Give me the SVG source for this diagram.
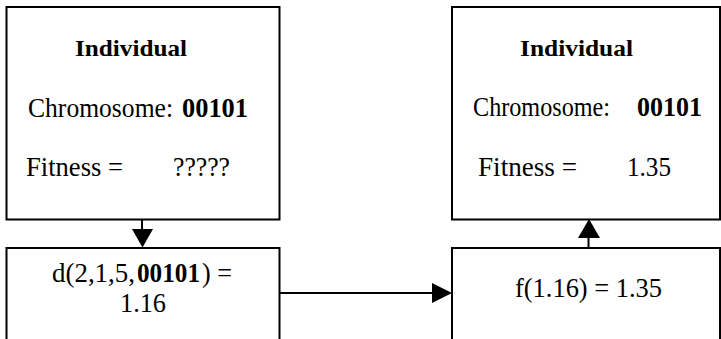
<svg xmlns="http://www.w3.org/2000/svg" width="721" height="339" viewBox="0 0 721 339">
<style>
text{font-family:'Liberation Serif','Times New Roman','DejaVu Serif',serif;fill:#000}
.t{font-size:27px}
.h{font-size:23px;font-weight:bold}
.b{font-weight:bold}
.box{fill:#fff;stroke:#000;stroke-width:2}
.c{stroke:#000;stroke-width:2;fill:none}
.ah{fill:#000;stroke:none}
</style>
<rect width="721" height="339" fill="#fff"/>
<g id="connectors">
<line class="c" x1="142" y1="217" x2="142" y2="230"/>
<polygon class="ah" points="132,229 153,229 142.5,247.5"/>
<line class="c" x1="588.5" y1="237" x2="588.5" y2="248"/>
<polygon class="ah" points="578,238 600,238 589,219"/>
<line class="c" x1="277" y1="293" x2="434" y2="293"/>
<polygon class="ah" points="432,283 432,303 452,293"/>
</g>
<g id="individual-left">
<rect class="box" x="6.5" y="7" width="273" height="212.5"/>
<text class="h" x="75" y="56" textLength="112" lengthAdjust="spacingAndGlyphs">Individual</text>
<text class="t" x="28" y="117" textLength="145" lengthAdjust="spacingAndGlyphs">Chromosome:</text>
<text class="t b" x="182" y="117" textLength="66" lengthAdjust="spacingAndGlyphs">00101</text>
<text class="t" x="26" y="176" textLength="97" lengthAdjust="spacingAndGlyphs">Fitness =</text>
<text class="t" x="173" y="176" textLength="57" lengthAdjust="spacingAndGlyphs">?????</text>
</g>
<g id="decode">
<rect class="box" x="6.5" y="248" width="273" height="100"/>
<text class="t" x="52" y="282" textLength="83" lengthAdjust="spacingAndGlyphs">d(2,1,5,</text>
<text class="t b" x="137" y="282" textLength="63" lengthAdjust="spacingAndGlyphs">00101</text>
<text class="t" x="202" y="282" textLength="30" lengthAdjust="spacingAndGlyphs">) =</text>
<text class="t" x="120" y="312" textLength="46" lengthAdjust="spacingAndGlyphs">1.16</text>
</g>
<g id="fitness-fn">
<rect class="box" x="452" y="248" width="268" height="100"/>
<text class="t" x="515" y="297" textLength="147" lengthAdjust="spacingAndGlyphs">f(1.16) = 1.35</text>
</g>
<g id="individual-right">
<rect class="box" x="452" y="7" width="268" height="212.5"/>
<text class="h" x="520" y="56" textLength="113" lengthAdjust="spacingAndGlyphs">Individual</text>
<text class="t" x="473" y="116" textLength="137" lengthAdjust="spacingAndGlyphs">Chromosome:</text>
<text class="t b" x="637" y="116" textLength="65" lengthAdjust="spacingAndGlyphs">00101</text>
<text class="t" x="478" y="176" textLength="99" lengthAdjust="spacingAndGlyphs">Fitness =</text>
<text class="t" x="627" y="176" textLength="44" lengthAdjust="spacingAndGlyphs">1.35</text>
</g>
</svg>
